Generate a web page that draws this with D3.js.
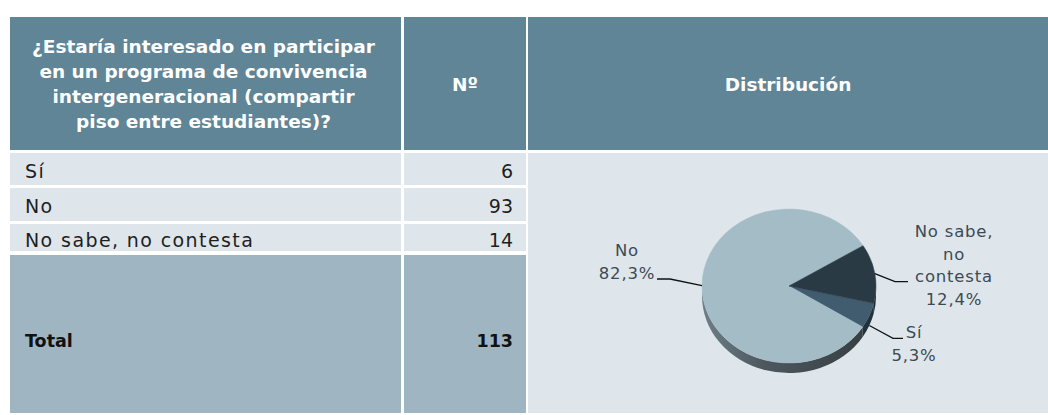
<!DOCTYPE html>
<html><head><meta charset="utf-8">
<script src="https://cdn.jsdelivr.net/npm/d3@7"></script>
<style>html,body{margin:0;padding:0;background:#fff;} svg{display:block;}</style>
</head><body>
<script>
// ---- data ----
const headerLines = ["¿Estaría interesado en participar", "en un programa de convivencia", "intergeneracional (compartir", "piso entre estudiantes)?"];
const countHeader = "Nº";
const chartHeader = "Distribución";
const categories = ["Sí", "No", "No sabe, no contesta"];
const counts = [6, 93, 14];
const totalLabel = "Total";
const totalCount = 113;
const pieLabelLines = [["Sí"], ["No"], ["No sabe,", "no", "contesta"]];
const sliceColors = ["#415c6e", "#a3bcc6", "#2a3a45"];
const sideColors = ["#22323d", null, "#1c2831"];

// ---- layout ----
const W = 1048, H = 415;
const FONT = "'Century Gothic','DejaVu Sans',sans-serif";
const cols = [[10, 401], [404, 526], [528, 1048]];
const headerY = [17, 150];
const rowsY = [[153, 185], [188, 221], [224, 251]];
const totalY = [255, 413];
const C = { header: "#5f8596", light: "#dee6ec", total: "#9fb5c1" };

const svg = d3.select("body").append("svg").attr("width", W).attr("height", H)
  .style("font-family", FONT);

// header cells
cols.forEach(c => svg.append("rect").attr("x", c[0]).attr("y", headerY[0])
  .attr("width", c[1] - c[0]).attr("height", headerY[1] - headerY[0]).attr("fill", C.header));
const hMid = (headerY[0] + headerY[1]) / 2, hfs = 18.5, hlh = 25;
const ht = svg.append("text").attr("fill", "#fff").attr("font-weight", "bold")
  .attr("font-size", hfs).attr("text-anchor", "middle");
headerLines.forEach((l, i) => ht.append("tspan").attr("x", (cols[0][0] + cols[0][1]) / 2 - 2)
  .attr("y", hMid - (headerLines.length - 1) / 2 * hlh + i * hlh + 0.38 * hfs).text(l));
svg.append("text").attr("x", (cols[1][0] + cols[1][1]) / 2).attr("y", hMid + 0.4 * hfs)
  .attr("fill", "#fff").attr("font-weight", "bold").attr("font-size", hfs)
  .attr("text-anchor", "middle").text(countHeader);
svg.append("text").attr("x", (cols[2][0] + cols[2][1]) / 2).attr("y", hMid + 0.4 * hfs)
  .attr("fill", "#fff").attr("font-weight", "bold").attr("font-size", hfs)
  .attr("text-anchor", "middle").text(chartHeader);

// data rows
categories.forEach((cat, i) => {
  const [t, b] = rowsY[i];
  [0, 1].forEach(k => svg.append("rect").attr("x", cols[k][0]).attr("y", t)
    .attr("width", cols[k][1] - cols[k][0]).attr("height", b - t).attr("fill", C.light));
  const by = Math.min(t + 25, b - 4);
  svg.append("text").attr("x", cols[0][0] + 15).attr("y", by).attr("font-size", 19)
    .attr("letter-spacing", 1.4).attr("fill", "#1e1e1e").text(cat);
  svg.append("text").attr("x", cols[1][1] - 13).attr("y", by).attr("font-size", 19)
    .attr("text-anchor", "end").attr("fill", "#1e1e1e").text(counts[i]);
});
// total row
[0, 1].forEach(k => svg.append("rect").attr("x", cols[k][0]).attr("y", totalY[0])
  .attr("width", cols[k][1] - cols[k][0]).attr("height", totalY[1] - totalY[0]).attr("fill", C.total));
svg.append("text").attr("x", cols[0][0] + 15).attr("y", totalY[0] + 92).attr("font-size", 17.5)
  .attr("font-weight", "bold").attr("fill", "#111").text(totalLabel);
svg.append("text").attr("x", cols[1][1] - 13).attr("y", totalY[0] + 92).attr("font-size", 17.5)
  .attr("font-weight", "bold").attr("text-anchor", "end").attr("fill", "#111").text(totalCount);

// pie cell
svg.append("rect").attr("x", cols[2][0]).attr("y", rowsY[0][0]).attr("width", cols[2][1] - cols[2][0])
  .attr("height", totalY[1] - rowsY[0][0]).attr("fill", C.light);

// ---- 3D pie ----
const cx = 789, cy = 286, rx = 87, ry = 77, depth = 10;
const sy = ry / rx, dS = depth / sy;
const startDeg = 103;
const pie = d3.pie().sort(null).startAngle(startDeg * Math.PI / 180)
  .endAngle(startDeg * Math.PI / 180 + 2 * Math.PI);
const arcsData = pie(counts);
const arc = d3.arc().innerRadius(0).outerRadius(rx);

const defs = svg.append("defs");
const grad = defs.append("linearGradient").attr("id", "sideGrad")
  .attr("gradientUnits", "userSpaceOnUse").attr("x1", -rx).attr("x2", rx).attr("y1", 0).attr("y2", 0);
grad.append("stop").attr("offset", 0).attr("stop-color", "#6f7f87");
grad.append("stop").attr("offset", 0.35).attr("stop-color", "#4d585e");
grad.append("stop").attr("offset", 1).attr("stop-color", "#343c41");

const pg = svg.append("g").attr("transform", `translate(${cx},${cy}) scale(1,${sy})`);
// sides (front half only)
arcsData.forEach((d, i) => {
  for (let k = 0; k < 2; k++) {
    const lo = Math.PI / 2 + 2 * Math.PI * k, hi = 3 * Math.PI / 2 + 2 * Math.PI * k;
    const a0 = Math.max(d.startAngle, lo), a1 = Math.min(d.endAngle, hi);
    if (a1 <= a0) continue;
    const p = d3.path();
    p.moveTo(rx * Math.sin(a0), -rx * Math.cos(a0));
    p.arc(0, 0, rx, a0 - Math.PI / 2, a1 - Math.PI / 2, false);
    p.lineTo(rx * Math.sin(a1), -rx * Math.cos(a1) + dS);
    p.arc(0, dS, rx, a1 - Math.PI / 2, a0 - Math.PI / 2, true);
    p.closePath();
    pg.append("path").attr("d", p.toString())
      .attr("fill", sideColors[i] || "url(#sideGrad)");
  }
});
// tops
pg.selectAll("path.top").data(arcsData).join("path").attr("class", "top")
  .attr("d", arc).attr("fill", (d, i) => sliceColors[i])
  .attr("stroke", (d, i) => sliceColors[i]).attr("stroke-width", 0.5)
  .attr("vector-effect", "non-scaling-stroke");

// ---- labels ----
const fmt = d3.formatLocale({ decimal: ",", thousands: ".", grouping: [3], currency: ["", "€"] }).format(".1%");
const total = d3.sum(counts);
const labelLayout = [
  { dy: 10, elbow: [893, 338.3], end: [903, 338.3], x: 914, y0: 338, lh: 23.4 },
  { dy: 0, elbow: [670, 279], end: [657, 279], x: 627, y0: 256, lh: 23 },
  { dy: 0, elbow: [895, 281.7], end: [908, 281.7], x: 954, y0: 237, lh: 22.5 }
];
arcsData.forEach((d, i) => {
  const L = labelLayout[i];
  const m = (d.startAngle + d.endAngle) / 2;
  const ax = cx + rx * Math.sin(m), ay = cy - ry * Math.cos(m) + L.dy;
  svg.append("path").attr("d", d3.line()([[ax, ay], L.elbow, L.end]))
    .attr("fill", "none").attr("stroke", "#111").attr("stroke-width", 1.3);
  const lines = pieLabelLines[i].concat([fmt(counts[i] / total)]);
  const t = svg.append("text").attr("font-size", 16.5).attr("letter-spacing", 0.8)
    .attr("fill", "#3c4a52").attr("text-anchor", "middle");
  lines.forEach((l, j) => t.append("tspan").attr("x", L.x).attr("y", L.y0 + j * L.lh).text(l));
});
</script>
</body></html>
